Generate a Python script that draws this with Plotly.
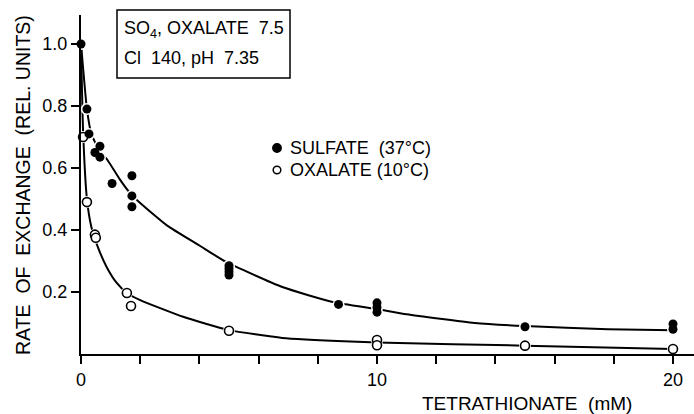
import plotly.graph_objects as go

# ---- data ----
sulfate_x = [0, 0.2, 0.27, 0.47, 0.64, 0.64, 1.05, 1.72, 1.72, 1.72, 5.0, 5.0, 5.0, 5.0, 8.7, 10, 10, 10, 15, 20, 20]
sulfate_y = [1.0, 0.79, 0.71, 0.65, 0.67, 0.635, 0.55, 0.575, 0.51, 0.475, 0.285, 0.275, 0.265, 0.255, 0.16, 0.165, 0.15, 0.135, 0.088, 0.097, 0.08]

oxalate_x = [0.07, 0.2, 0.47, 0.5, 1.55, 1.69, 5.0, 10, 10, 15, 20]
oxalate_y = [0.70, 0.49, 0.385, 0.375, 0.197, 0.155, 0.075, 0.045, 0.028, 0.027, 0.016]

# fitted curves
sulfate_curve_x = [0, 0.1, 0.2, 0.35, 0.6, 0.9, 1.3, 1.65, 2.0, 2.9, 4.0, 4.9, 6.8, 8.5, 10, 11, 13.3, 15, 17.8, 20]
sulfate_curve_y = [1.0, 0.89, 0.79, 0.71, 0.66, 0.625, 0.565, 0.52, 0.487, 0.415, 0.35, 0.297, 0.216, 0.168, 0.145, 0.128, 0.1, 0.09, 0.08, 0.077]

oxalate_curve_x = [0, 0.07, 0.2, 0.35, 0.57, 0.87, 1.2, 1.55, 2.0, 3.45, 5.0, 6.8, 9.1, 10, 15, 20]
oxalate_curve_y = [1.0, 0.72, 0.5, 0.41, 0.345, 0.28, 0.23, 0.197, 0.174, 0.12, 0.077, 0.052, 0.04, 0.037, 0.027, 0.016]

x_tick_vals = [0, 10, 20]
x_tick_text = ["0", "10", "20"]
x_minor_step = 2
y_tick_vals = [0.2, 0.4, 0.6, 0.8, 1.0]
y_tick_text = ["0.2", "0.4", "0.6", "0.8", "1.0"]

series_names = ["SULFATE  (37°C)", "OXALATE (10°C)"]
box_lines = ["SO<sub>4</sub>, OXALATE  7.5", "Cl  140, pH  7.35"]
x_title = "TETRATHIONATE  (mM)"
y_title = "RATE  OF  EXCHANGE  (REL. UNITS)"

FONT = "Liberation Sans, Arial, DejaVu Sans, sans-serif"
W, H = 694, 414
L, R, T, B = 81, 0, 15, 60

fig = go.Figure()

# curves
for cx, cy in [(sulfate_curve_x, sulfate_curve_y), (oxalate_curve_x, oxalate_curve_y)]:
    fig.add_trace(go.Scatter(x=cx, y=cy, mode="lines",
                             line=dict(color="black", width=2, shape="spline", smoothing=0.5),
                             showlegend=False, hoverinfo="skip", cliponaxis=False))
# white halos to break the lines around points
fig.add_trace(go.Scatter(x=sulfate_x + oxalate_x, y=sulfate_y + oxalate_y, mode="markers",
                         marker=dict(size=12, color="white", line=dict(width=0)),
                         showlegend=False, hoverinfo="skip", cliponaxis=True))
# points
fig.add_trace(go.Scatter(x=oxalate_x, y=oxalate_y, mode="markers", name=series_names[1],
                         marker=dict(size=9, color="white", symbol="circle",
                                     line=dict(color="black", width=1.6)),
                         showlegend=False, cliponaxis=False))
fig.add_trace(go.Scatter(x=sulfate_x, y=sulfate_y, mode="markers", name=series_names[0],
                         marker=dict(size=9, color="black", symbol="circle",
                                     line=dict(color="black", width=0)),
                         showlegend=False, cliponaxis=False))

def px_x(p):
    return (p - L) / (W - L - R)

def px_y(p):
    return (H - B - p) / (H - T - B)

# info box
fig.add_shape(type="rect", xref="paper", yref="paper",
              x0=px_x(117), x1=px_x(290), y0=px_y(78), y1=px_y(10),
              line=dict(color="black", width=1.5), fillcolor="white")
fig.add_annotation(xref="paper", yref="paper", x=px_x(122), y=px_y(30),
                   xanchor="left", yanchor="middle", text=box_lines[0], showarrow=False,
                   font=dict(family=FONT, size=18, color="black"))
fig.add_annotation(xref="paper", yref="paper", x=px_x(122), y=px_y(58),
                   xanchor="left", yanchor="middle", text=box_lines[1], showarrow=False,
                   font=dict(family=FONT, size=18, color="black"))

# legend (symbol shapes + texts)
legend_rows = [(148, "black", series_names[0]), (170, "white", series_names[1])]
for yy, fill, label in legend_rows:
    r = 4.2 if fill == "black" else 3.8
    fig.add_shape(type="circle", xref="paper", yref="paper",
                  x0=px_x(277 - r), x1=px_x(277 + r), y0=px_y(yy + r), y1=px_y(yy - r),
                  line=dict(color="black", width=1.5), fillcolor=fill)
    fig.add_annotation(xref="paper", yref="paper", x=px_x(288), y=px_y(yy),
                       xanchor="left", yanchor="middle", text=label, showarrow=False,
                       font=dict(family=FONT, size=18, color="black"))

# axis titles
fig.add_annotation(xref="paper", yref="paper", x=px_x(527), y=px_y(403),
                   xanchor="center", yanchor="middle", text=x_title, showarrow=False,
                   font=dict(family=FONT, size=19, color="black"))
fig.add_annotation(xref="paper", yref="paper", x=px_x(23), y=px_y(185),
                   xanchor="center", yanchor="middle", text=y_title, showarrow=False,
                   textangle=-90, font=dict(family=FONT, size=19.5, color="black"))

fig.update_layout(
    width=W, height=H,
    margin=dict(l=L, r=R, t=T, b=B, pad=0),
    paper_bgcolor="white", plot_bgcolor="white",
    font=dict(family=FONT, size=18, color="black"),
    showlegend=False,
    xaxis=dict(range=[0, (W - L - R) / 29.6], showgrid=False, zeroline=False,
               showline=True, linecolor="black", linewidth=2,
               tickmode="array", tickvals=x_tick_vals, ticktext=x_tick_text,
               ticks="outside", ticklen=8, tickwidth=1.5, tickcolor="black",
               minor=dict(dtick=x_minor_step, tick0=0, ticks="outside", ticklen=8,
                          tickwidth=1.5, tickcolor="black", showgrid=False),
               tickfont=dict(family=FONT, size=18, color="black")),
    yaxis=dict(range=[0, (H - T - B) / 310.0], showgrid=False, zeroline=False,
               showline=True, linecolor="black", linewidth=2,
               tickmode="array", tickvals=y_tick_vals, ticktext=y_tick_text,
               ticks="outside", ticklen=8, tickwidth=1.5, tickcolor="black",
               tickfont=dict(family=FONT, size=18, color="black")),
)

fig.write_html("out.html")
